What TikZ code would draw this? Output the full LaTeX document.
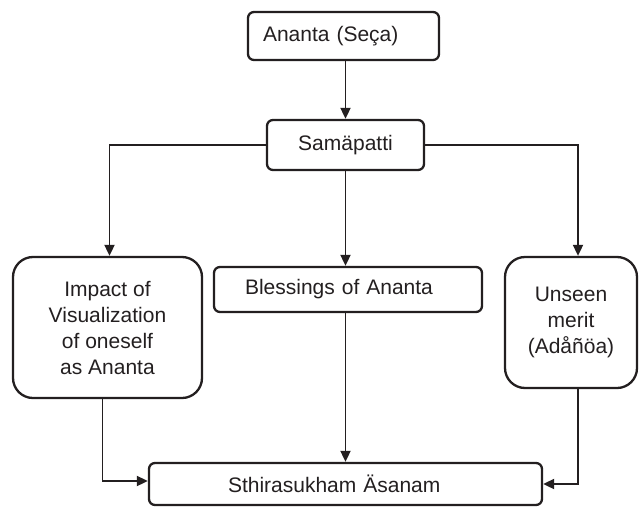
\documentclass[tikz,border=0pt]{standalone}
\usepackage{fontspec}
\setmainfont{Liberation Sans}
\usetikzlibrary{arrows.meta}
\definecolor{ink}{HTML}{231F20}
\begin{document}
\begin{tikzpicture}[x=1pt,y=-1pt,
  every node/.style={font=\fontsize{21}{26}\selectfont, text=ink},
  box/.style={draw=ink, line width=2.3pt, rounded corners=6pt, inner ysep=0pt, minimum height=#1},
  bigbox/.style={draw=ink, line width=2.3pt, rounded corners=20pt, inner sep=0pt, align=center},
  arr/.style={draw=ink, line width=1.8pt, -{Triangle[length=11pt,width=10pt]}},
  ln/.style={draw=ink, line width=1.8pt}]
\useasboundingbox (0,0) rectangle (639,506);

\node[box=48pt, inner xsep=15pt, text width=161pt, align=left] (top) at (343.5,36) {Ananta (Seça)};
\node[box=50pt, minimum width=157pt, inner xsep=0pt] (sam) at (345.5,145) {Samäpatti};
\node[box=45pt, inner xsep=31pt, text width=206pt, align=left] (bless) at (348,289.5) {Blessings of Ananta};
\node[bigbox, minimum width=189pt, minimum height=141pt] (left) at (107.5,327.5) {Impact of\\Visualization\\of oneself\\ as Ananta};
\node[bigbox, minimum width=132pt, minimum height=131pt] (right) at (571,322.5) {Unseen\\merit\\(Adåñöa)};
\node[box=42pt, inner xsep=79pt, text width=235pt, align=left] (bot) at (345.5,484) {Sthirasukham Äsanam};

\draw[arr] (sam.north |- top.south) -- (sam.north);
\draw[arr] (sam.west) -| ([xshift=2pt]left.north);
\draw[arr] (sam.east) -| ([xshift=7pt]right.north);
\draw[arr] (sam.south) -- (sam.south |- bless.north);
\draw[arr] (bless.south -| bot.north) -- (bot.north);
\draw[arr] ([xshift=-5pt]left.south) |- ([yshift=3pt]bot.west);
\draw[arr] ([xshift=7pt]right.south) |- (bot.east);
\end{tikzpicture}
\end{document}
